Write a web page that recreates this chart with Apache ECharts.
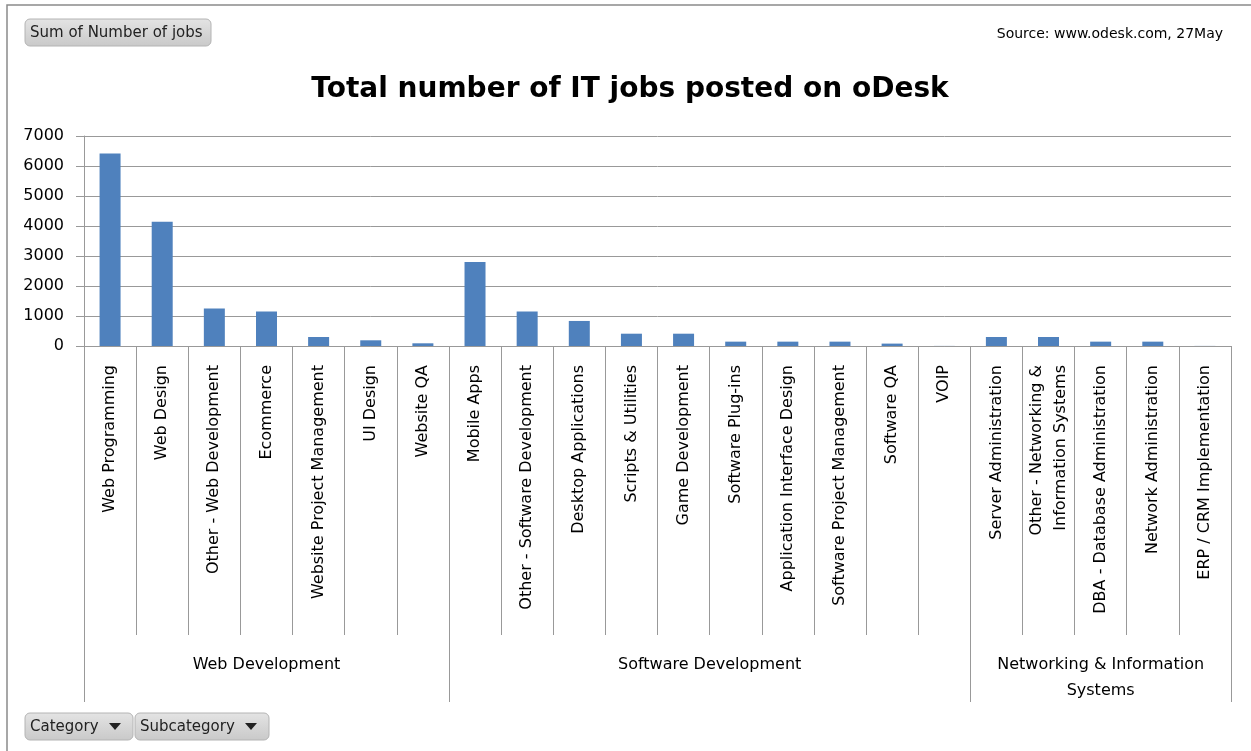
<!DOCTYPE html>
<html><head><meta charset="utf-8">
<script src="https://cdn.jsdelivr.net/npm/echarts@6/dist/echarts.min.js"></script>
<style>html,body{margin:0;padding:0;background:#fff}#c{width:1251px;height:751px}</style>
</head><body><div id="c"></div>
<script>
const subcategories = [
  'Web Programming','Web Design','Other - Web Development','Ecommerce','Website Project Management','UI Design','Website QA',
  'Mobile Apps','Other - Software Development','Desktop Applications','Scripts & Utilities','Game Development','Software Plug-ins',
  'Application Interface Design','Software Project Management','Software QA','VOIP',
  'Server Administration','Other - Networking &\nInformation Systems','DBA - Database Administration','Network Administration','ERP / CRM Implementation'
];
const jobCounts = [6420, 4140, 1250, 1150, 300, 190, 90,
  2800, 1150, 835, 410, 410, 145, 145, 145, 80, 3,
  300, 300, 145, 145, 3];
const groupNames = ['Web Development', 'Software Development', 'Networking & Information\nSystems'];
const groupSizes = [7, 10, 5];
const yMin = 0, yMax = 7000, yStep = 1000;

const boundaries = [0];
groupSizes.forEach(s => boundaries.push(boundaries[boundaries.length - 1] + s));
const centers = groupSizes.map((s, i) => boundaries[i] + s / 2);

const FONT = 'DejaVu Sans';
const GRID = '#999999';
const chart = echarts.init(document.getElementById('c'), null, {renderer: 'canvas'});
const gridRect = {left: 84, right: 20, top: 136, bottom: 405};

function button(x, y, w, label, arrow) {
  const children = [
    {type: 'rect', shape: {x: x, y: y, width: w, height: 27, r: 5},
     style: {fill: new echarts.graphic.LinearGradient(0, 0, 0, 1, [{offset: 0, color: '#e4e4e4'}, {offset: 1, color: '#c9c9c9'}]),
             stroke: '#b4b4b4', lineWidth: 1}},
    {type: 'text', x: x + 5, y: y + 14, style: {text: label, fontFamily: FONT, fontSize: 15, fill: '#222', verticalAlign: 'middle'}}
  ];
  if (arrow) {
    const ax = x + w - 18;
    children.push({type: 'polygon', shape: {points: [[ax - 6, y + 10], [ax + 6, y + 10], [ax, y + 17]]}, style: {fill: '#222'}});
  }
  return {type: 'group', children: children};
}

const option = {
  animation: false,
  backgroundColor: '#fff',
  title: [
    {text: 'Total number of IT jobs posted on oDesk', left: 625, textAlign: 'center', top: 71,
     textStyle: {fontFamily: FONT, fontSize: 28, fontWeight: 'bold', color: '#000'}},
    {text: 'Source: www.odesk.com, 27May', right: 23, top: 22,
     textStyle: {fontFamily: FONT, fontSize: 14, fontWeight: 'normal', color: '#000'}}
  ],
  grid: [Object.assign({}, gridRect), Object.assign({}, gridRect)],
  xAxis: [
    {type: 'category', gridIndex: 0, data: subcategories, boundaryGap: true,
     axisLine: {lineStyle: {color: GRID, width: 1}},
     axisTick: {show: true, interval: 0, length: 289, lineStyle: {color: GRID}},
     axisLabel: {interval: 0, rotate: 90, margin: 19, fontFamily: FONT, fontSize: 16, color: '#000', lineHeight: 24}},
    {type: 'value', gridIndex: 1, min: 0, max: subcategories.length, position: 'bottom',
     axisLine: {show: false}, splitLine: {show: false},
     axisTick: {show: true, customValues: boundaries, length: 356, lineStyle: {color: GRID}},
     axisLabel: {customValues: centers,
                 formatter: function (v) { const i = centers.indexOf(v); return i >= 0 ? groupNames[i] : ''; },
                 margin: 306, verticalAlign: 'top', align: 'center', fontFamily: FONT, fontSize: 16, color: '#000', lineHeight: 26}}
  ],
  yAxis: [
    {type: 'value', gridIndex: 0, min: yMin, max: yMax, interval: yStep,
     axisLine: {show: true, lineStyle: {color: GRID}},
     axisTick: {show: true, length: 8, lineStyle: {color: GRID}},
     splitLine: {lineStyle: {color: GRID, width: 1}},
     axisLabel: {margin: 20, fontFamily: FONT, fontSize: 16, color: '#000', formatter: function (v) { return String(v); }}},
    {type: 'value', gridIndex: 1, show: false}
  ],
  series: [{type: 'bar', xAxisIndex: 0, yAxisIndex: 0, data: jobCounts, barWidth: 21,
            itemStyle: {color: '#4F81BD'}}],
  graphic: [
    {type: 'rect', shape: {x: 7, y: 5, width: 1270, height: 780}, style: {fill: 'none', stroke: '#8a8a8a', lineWidth: 1.5}, silent: true},
    button(25, 19, 186, 'Sum of Number of jobs', false),
    button(25, 713, 108, 'Category', true),
    button(135, 713, 134, 'Subcategory', true)
  ]
};
chart.setOption(option);
</script>
</body></html>
